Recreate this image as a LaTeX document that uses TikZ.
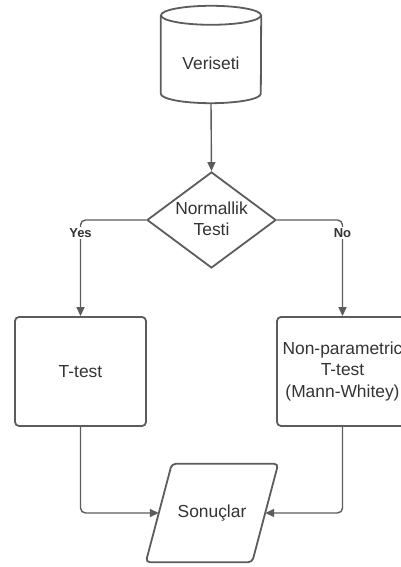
\documentclass[tikz,border=0pt]{standalone}
\usepackage{fontspec}
\setmainfont{Liberation Sans}
\usetikzlibrary{arrows.meta,shapes.geometric}
\definecolor{ln}{HTML}{5C5C5C}
\definecolor{tx}{HTML}{333333}
\begin{document}
\begin{tikzpicture}[x=1pt,y=1pt,
  shapeline/.style={draw=ln, line width=1.8pt},
  conn/.style={draw=ln, line width=1.4pt, -{Triangle[length=9pt,width=8pt]}},
  txt/.style={text=tx, font=\fontsize{17.4}{21.5}\selectfont, align=center},
  lbl/.style={fill=white, text=tx, font=\bfseries\fontsize{13}{15}\selectfont, inner sep=1.5pt},
  procbox/.style={shapeline, rounded corners=4pt, minimum width=131pt, minimum height=109pt, inner sep=0pt, txt}]
\useasboundingbox (0,0) rectangle (401,567);
\clip (0,0) rectangle (401,567);
% database cylinder
\node[minimum width=100pt, minimum height=97pt, inner sep=0pt] (data) at (211,512.5) {};
\draw[shapeline] ([yshift=-9.5pt]data.north) ellipse [x radius=50pt, y radius=9.5pt];
\draw[shapeline] ([yshift=-9.5pt]data.north west) -- ([yshift=9.5pt]data.south west)
  arc[start angle=180, end angle=360, x radius=50pt, y radius=9.5pt] -- ([yshift=-9.5pt]data.north east);
\node[txt] (datatext) at (211,503.5) {Veriseti};
% decision
\node[diamond, shapeline, minimum width=129pt, minimum height=96pt, inner sep=0pt] (test) at (211.5,347) {};
\node[txt] (testtext) at (211.5,348) {Normallik\\Testi};
% process boxes
\node[procbox] (tt) at (80.5,195.5) {T-test};
\node[procbox] (np) at (342.5,195.5) {Non-parametric\\T-test\\(Mann-Whitey)};
% result parallelogram
\node[minimum width=106pt, minimum height=98pt, inner sep=0pt, txt] (res) at (212,54) {Sonuçlar};
\draw[shapeline, rounded corners=4pt] ([xshift=13pt]res.north west) -- ([xshift=13pt]res.north east)
  -- ([xshift=-13pt]res.south east) -- ([xshift=-13pt]res.south west) -- cycle;
% connectors
\draw[conn] (data.south) -- (test.north);
\draw[conn, rounded corners=5pt] (test.west) -| (tt.north);
\draw[conn, rounded corners=5pt] (test.east) -| (np.north);
\node[lbl] (yes) at (80.5,334) {Yes};
\node[lbl] (no) at (342.5,334) {No};
\draw[conn, rounded corners=5pt] (tt.south) |- (res.west);
\draw[conn, rounded corners=5pt] (np.south) |- (res.east);
\end{tikzpicture}
\end{document}
